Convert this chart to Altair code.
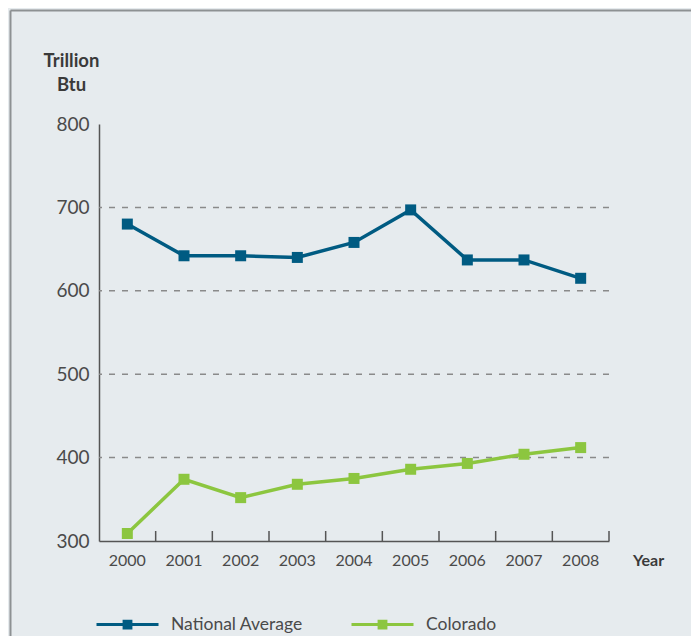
import altair as alt
import pandas as pd

# ---- data ----
years = ["2000", "2001", "2002", "2003", "2004", "2005", "2006", "2007", "2008"]
national_average = [680, 642, 642, 640, 658, 697, 637, 637, 615]
colorado = [309, 374, 352, 368, 375, 386, 393, 404, 412]
series_names = ["National Average", "Colorado"]
series_colors = ["#005b82", "#8cc63f"]
y_tick_values = [300, 400, 500, 600, 700, 800]
grid_values = [400, 500, 600, 700]

FONT = "Lato"
TEXT = "#4a4a4a"
AXIS = "#555555"
W, H = 510, 417

df = pd.DataFrame({
    "Year": years * 2,
    "Value": national_average + colorado,
    "Series": [series_names[0]] * len(years) + [series_names[1]] * len(years),
})
grid_df = pd.DataFrame({"Value": grid_values})
tick_df = pd.DataFrame({"Year": years})
one_df = pd.DataFrame({"k": [0]})

x_scale = alt.Scale(type="band", domain=years, paddingInner=0, paddingOuter=0)
x_axis = alt.Axis(
    labelAngle=0, labelFont=FONT, labelFontSize=16, labelColor=TEXT,
    labelPadding=11, ticks=False, tickSize=0,
    domainColor=AXIS, domainWidth=1.5, grid=False,
    title="Year", titleFont=FONT, titleFontSize=16, titleFontWeight="bold",
    titleColor="#3a3a3a", titleAngle=0, titleAlign="center",
    titleBaseline="alphabetic", titleX=549, titleY=24,
)
y_scale = alt.Scale(domain=[300, 800], nice=False, zero=False)
y_axis = alt.Axis(
    values=y_tick_values, labelFont=FONT, labelFontSize=19, labelColor=TEXT,
    labelPadding=10, ticks=False, tickSize=0, grid=False,
    domainColor=AXIS, domainWidth=1.5,
    title=["Trillion", "Btu"], titleFont=FONT, titleFontSize=18.5,
    titleFontWeight="bold", titleColor="#3a3a3a", titleAngle=0,
    titleAlign="center", titleBaseline="alphabetic", titleLineHeight=24,
    titleX=-28, titleY=-58,
)
y_enc = alt.Y("Value:Q", scale=y_scale, axis=y_axis)

border = alt.Chart(one_df).mark_rule(color="#8d9193", strokeWidth=2).encode(
    x=alt.value(-88.5), x2=alt.value(620), y=alt.value(-113.5)
)
border_left = alt.Chart(one_df).mark_rule(color="#8d9193", strokeWidth=2).encode(
    x=alt.value(-88.5), y=alt.value(-113.5), y2=alt.value(530)
)

grid = alt.Chart(grid_df).mark_rule(
    color="#8a8a8a", strokeWidth=1.5, strokeDash=[6, 7]
).encode(y=y_enc)

ticks = alt.Chart(tick_df).mark_rule(color=AXIS, strokeWidth=1.5).encode(
    x=alt.X("Year:O", bandPosition=1, scale=x_scale, axis=x_axis),
    y=alt.value(H - 10), y2=alt.value(H),
)

lines = alt.Chart(df).mark_line(
    strokeWidth=3.5,
    point=alt.OverlayMarkDef(shape="square", size=121, filled=True, opacity=1),
).encode(
    x=alt.X("Year:O", bandPosition=0.5, scale=x_scale, axis=x_axis),
    y=y_enc,
    color=alt.Color(
        "Series:N",
        scale=alt.Scale(domain=series_names, range=series_colors),
        legend=alt.Legend(
            title=None, orient="none", legendX=-4, legendY=468,
            direction="horizontal",
            symbolType="M-1,0H1M-0.11,-0.11H0.11V0.11H-0.11Z",
            symbolSize=3844, symbolStrokeWidth=3,
            labelFont=FONT, labelFontSize=17.5, labelColor=TEXT,
            labelOffset=11, columnPadding=42,
        ),
    ),
    order=alt.Order("Year:O"),
)

chart = alt.layer(border, border_left, grid, ticks, lines).properties(
    width=W, height=H,
    padding={"left": 91, "top": 116, "right": 82, "bottom": 95},
    autosize=alt.AutoSizeParams(type="none"),
    background="#e6ebee",
).configure_view(stroke=None)

chart.save("out.html", embed_options={"renderer": "svg", "actions": False})
